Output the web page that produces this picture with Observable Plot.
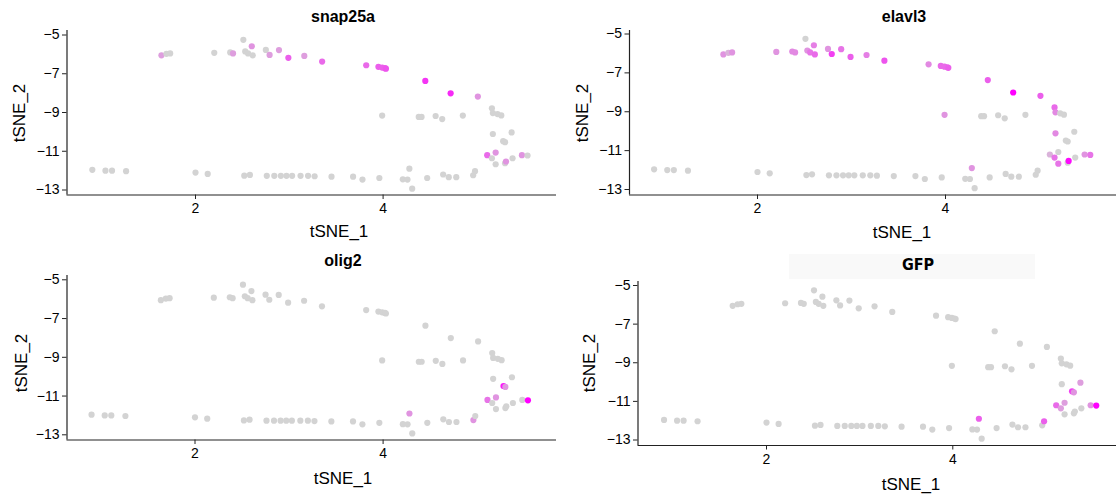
<!DOCTYPE html>
<html><head><meta charset="utf-8">
<script src="https://cdn.jsdelivr.net/npm/d3@7"></script>
<script src="https://cdn.jsdelivr.net/npm/@observablehq/plot@0.6"></script>
<style>
body{margin:0;background:#fff;font-family:"Liberation Sans",Arial,sans-serif;}
#wrap{position:relative;width:1116px;height:495px;overflow:hidden;background:#fff;}
.panel{position:absolute;}
.lbl{position:absolute;transform:translate(-50%,-50%);white-space:nowrap;color:#000;line-height:1;}
.axt{font-size:17px;}
.ttl{font-size:16px;font-weight:bold;}
.rot{transform:translate(-50%,-50%) rotate(-90deg);}
.strip{position:absolute;background:#f9f9f9;}
</style></head><body><div id="wrap"></div>
<script>
// shared cell embedding
const tsne1 = [1.637,1.69,1.73,2.20,2.37,2.40,2.51,2.53,2.56,2.60,2.61,2.75,2.79,2.89,2.99,3.16,3.35,3.82,3.95,3.99,4.02,4.03,4.45,4.72,5.01,5.16,5.17,5.22,5.26,5.17,5.37,5.28,5.30,5.11,5.20,5.16,5.20,5.30,5.31,5.38,5.48,5.54,3.99,4.38,4.41,4.56,4.63,4.85,0.90,1.04,1.11,1.26,2.00,2.13,2.52,2.58,2.76,2.84,2.91,2.97,3.03,3.12,3.20,3.27,3.45,3.68,3.78,3.96,4.21,4.26,4.28,4.31,4.47,4.64,4.70,4.78,4.96,4.98];
const tsne2 = [-6.05,-5.97,-5.95,-5.92,-5.90,-5.95,-5.25,-5.85,-5.95,-5.58,-6.05,-5.77,-6.03,-5.78,-6.18,-6.08,-6.37,-6.56,-6.64,-6.68,-6.71,-6.74,-7.37,-8.01,-8.18,-8.78,-9.03,-9.08,-9.15,-10.11,-10.03,-10.48,-10.53,-11.20,-11.07,-11.36,-11.67,-11.62,-11.53,-11.36,-11.20,-11.22,-9.16,-9.23,-9.23,-9.18,-9.34,-9.16,-11.96,-12.00,-12.00,-12.03,-12.10,-12.17,-12.26,-12.22,-12.27,-12.27,-12.27,-12.27,-12.27,-12.27,-12.27,-12.29,-12.31,-12.31,-12.46,-12.38,-12.45,-12.46,-11.90,-12.93,-12.38,-12.20,-12.34,-12.34,-12.24,-12.03];

// expression per gene (0 = none, 1 = max)
const snap25a = [0.25,0,0,0,0,0.25,0,0,0,0.3,0,0,0.25,0.25,0.55,0.25,0.5,0.5,0.55,0.55,0.55,0.6,0.75,0.8,0.3,0,0,0,0,0,0,0,0,0.5,0.3,0,0,0,0.3,0,0.3,0,0,0,0,0,0,0,0,0,0,0,0,0,0,0,0,0,0,0,0,0,0,0,0,0,0,0,0,0,0,0,0,0,0,0,0,0];
const elavl3 = [0.3,0.15,0.3,0.3,0.35,0.35,0,0.3,0.45,0.4,0.5,0.3,0.7,0.45,0.55,0.4,0.6,0.35,0.5,0.5,0.5,0.55,0.55,1.0,0.55,0.5,0.35,0,0,0.35,0,0,0,0.15,0,0.45,0.45,0,0.95,0,0.3,0.45,0.3,0,0,0,0,0,0,0,0,0,0,0,0,0,0,0,0,0,0,0,0,0,0,0,0,0,0,0,0.3,0,0,0,0,0,0,0];
const olig2 = [0,0,0,0,0,0,0,0,0,0,0,0,0,0,0,0,0,0,0,0,0,0,0,0,0,0,0,0,0,0,0,0.9,0.3,0.45,0.3,0,0,0,0,0,0,1.0,0,0,0,0,0,0,0,0,0,0,0,0,0,0,0,0,0,0,0,0,0,0,0,0,0,0,0,0,0.3,0,0,0,0,0,0.3,0];
const GFP = [0,0,0,0,0,0,0,0,0,0,0,0,0,0,0,0,0,0,0,0,0,0,0,0,0,0,0,0,0,0,0.25,0.7,0.3,0.5,0.25,0.25,0,0,0,0,0.3,1.0,0,0,0,0,0,0,0,0,0,0,0,0,0,0,0,0,0,0,0,0,0,0,0,0,0,0,0,0,0.55,0,0,0,0,0,0,0.55];

const xTicks = [2, 4];
const yTicks = [-13, -11, -9, -7, -5];
const axisTitleX = "tSNE_1", axisTitleY = "tSNE_2";

const panels = [
  {name:"snap25a", expr:snap25a, box:[0,0,556,240], area:[66.5,556,30,194.5], xt:[195,382.6], yt:[34.5,189.5], title:[343,17], xlab:[339,231], ylab:[19,113]},
  {name:"elavl3", expr:elavl3, box:[556,0,560,240], area:[629,1116,30,194.5], xt:[757,945], yt:[33.5,189], title:[904,17], xlab:[902,232], ylab:[582,113]},
  {name:"olig2", expr:olig2, box:[0,240,556,255], area:[66.5,556,275,439.5], xt:[194.5,382.6], yt:[279.3,434.3], title:[343,261], xlab:[343,478], ylab:[21,363]},
  {name:"GFP", expr:GFP, box:[556,240,560,255], area:[637.5,1116,281,445], xt:[766,952.3], yt:[285,439.5], title:[918,265], xlab:[911,484], ylab:[589,363], strip:[789,254,1034.5,279]}
];

const wrap = document.getElementById("wrap");
const idx = d3.range(tsne1.length);

function addLabel(text, pos, cls, extra) {
  const d = document.createElement("div");
  d.className = "lbl " + cls;
  d.textContent = text;
  d.style.left = pos[0] + "px";
  d.style.top = pos[1] + "px";
  if (extra) Object.assign(d.style, extra);
  wrap.appendChild(d);
}

for (const p of panels) {
  const [bx, by, bw, bh] = p.box;
  const [left, right, top, bottom] = p.area;
  const xu = (p.xt[1] - p.xt[0]) / 2;
  const yu = (p.yt[1] - p.yt[0]) / 8;
  const xmin = 2 + (left - p.xt[0]) / xu, xmax = 2 + (right - p.xt[0]) / xu;
  const ymax = -5 + (p.yt[0] - top) / yu, ymin = -5 - (bottom - p.yt[0]) / yu;
  if (p.strip) {
    const s = document.createElement("div");
    s.className = "strip";
    s.style.left = p.strip[0] + "px"; s.style.top = p.strip[1] + "px";
    s.style.width = (p.strip[2] - p.strip[0]) + "px"; s.style.height = (p.strip[3] - p.strip[1]) + "px";
    wrap.appendChild(s);
  }
  const chart = Plot.plot({
    width: bw, height: bh,
    marginLeft: left - bx, marginRight: bx + bw - right,
    marginTop: top - by, marginBottom: by + bh - bottom,
    x: {domain: [xmin, xmax]},
    y: {domain: [ymin, ymax]},
    color: {type: "linear", domain: [0, 1], range: ["lightgrey", "magenta"], interpolate: "rgb"},
    style: {fontSize: "14px", fontFamily: "'Liberation Sans', Arial, sans-serif", color: "#000", background: "transparent", overflow: "visible"},
    marks: [
      Plot.dot(idx, {x: i => tsne1[i], y: i => tsne2[i], r: 3.1, fill: i => p.expr[i], stroke: null}),
      Plot.ruleY([ymin], {stroke: "#222", strokeWidth: 1.2}),
      Plot.ruleX([xmin], {stroke: "#222", strokeWidth: 1.2}),
      Plot.axisX({ticks: xTicks, tickFormat: d3.format("d"), tickSize: 4.5, tickPadding: 4, label: null, stroke: "#222"}),
      Plot.axisY({ticks: yTicks, tickFormat: d3.format("d"), tickSize: 4.5, tickPadding: 3, label: null, stroke: "#222"})
    ]
  });
  chart.classList.add("panel");
  chart.style.left = bx + "px";
  chart.style.top = by + "px";
  wrap.appendChild(chart);
  if (p.strip) {
    addLabel(p.name, p.title, "ttl", {fontFamily: "'DejaVu Sans Condensed','DejaVu Sans',sans-serif", fontStretch: "condensed", fontSize: "16px"});
  } else {
    addLabel(p.name, p.title, "ttl");
  }
  addLabel(axisTitleX, p.xlab, "axt");
  addLabel(axisTitleY, p.ylab, "axt rot");
}
</script></body></html>
